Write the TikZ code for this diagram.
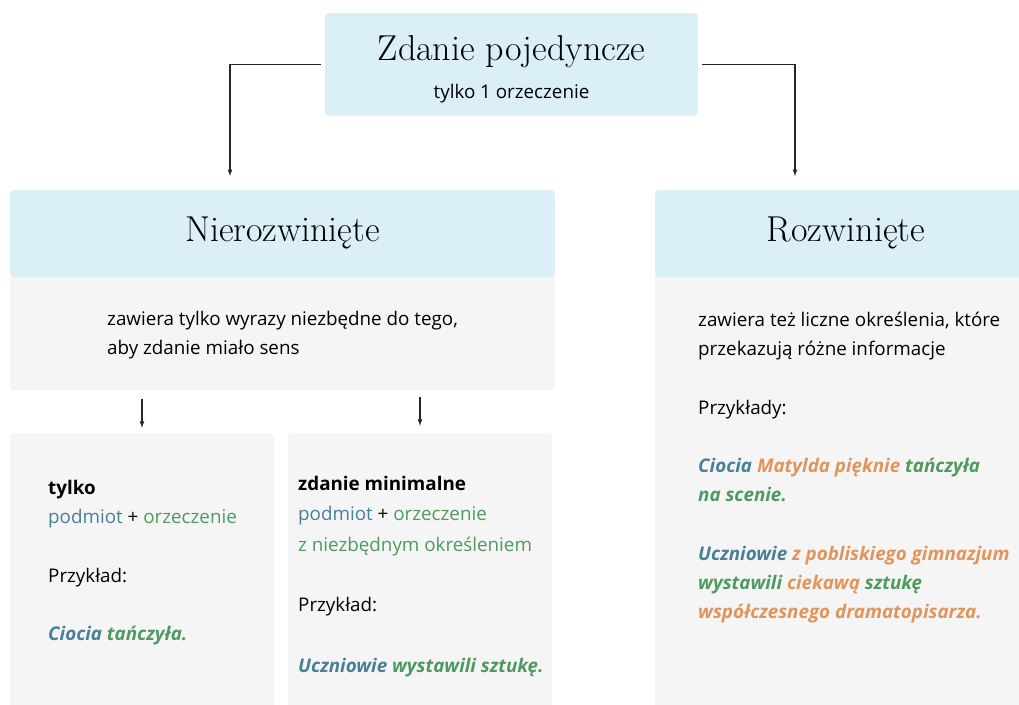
\documentclass[tikz,border=0pt]{standalone}
\usepackage{fontspec}
\newfontfamily\osans{Open Sans}
\usetikzlibrary{arrows,positioning}

\definecolor{boxblue}{HTML}{DBEFF8}
\definecolor{boxgray}{HTML}{F5F5F5}
\definecolor{cpod}{HTML}{497F98}
\definecolor{corz}{HTML}{4E9A5F}
\definecolor{cokr}{HTML}{E0955C}

\newcommand{\podm}[1]{\textcolor{cpod}{#1}}
\newcommand{\orzm}[1]{\textcolor{corz}{#1}}
\newcommand{\okrm}[1]{\textcolor{cokr}{#1}}
\newcommand{\przyk}[1]{\textbf{\textit{#1}}}

\tikzset{
  hdr/.style={fill=boxblue, rounded corners=4pt, inner sep=0pt, font=\fontsize{36}{42}\selectfont},
  card/.style={fill=boxgray, rounded corners=4pt, inner sep=0pt},
  txt/.style={anchor=north west, align=left, inner sep=0pt, font=\osans\fontsize{18.8}{29.3}\selectfont},
  link/.style={->, >=latex, line width=1.2pt, color=black!85},
}

\begin{document}
\begin{tikzpicture}[x=1pt, y=-1pt, on grid]
            \useasboundingbox (0,0) rectangle (1019,704);
            \node[hdr, minimum width=373pt, minimum height=103pt] (zdanie) at (511.5,64.5) {};
            \node[align=center, inner sep=0pt, text depth=6pt, yshift=-5.5pt, font=\fontsize{36}{38}\selectfont] (zdanietxt) at (zdanie)
                {Zdanie pojedyncze\\{\osans\fontsize{18.8}{22}\selectfont tylko 1 orzeczenie}};
            % grey bodies first, headers on top
            \node[card, minimum width=545pt, minimum height=125pt] (nierbody) at (282.5,327.5) {};
            \node[card, minimum width=382pt, minimum height=465pt] (rozwbody) at (846,497.5) {};
            \node[card, minimum width=264pt, minimum height=297pt, below left=254pt and 140.5pt of nierbody] (tylko) {};
            \node[card, minimum width=264pt, minimum height=297pt, right=278pt of tylko] (minimal) {};
            \node[hdr, minimum width=545pt, minimum height=87pt, below left=169pt and 229pt of zdanie] (nier) {Nierozwinięte};
            \node[hdr, minimum width=382pt, minimum height=87pt, below right=169pt and 334.5pt of zdanie] (rozw) {Rozwinięte};
            % texts
            \node[txt] (niertxt) at (107,311) {zawiera tylko wyrazy niezbędne do tego,\\aby zdanie miało sens};
            \node[txt] (rozwtxt) at (698,312) {zawiera też liczne określenia, które\\przekazują różne informacje\\[29pt]
                Przykłady:\\[29pt]
                \przyk{\podm{Ciocia} \okrm{Matylda pięknie} \orzm{tańczyła}}\\\przyk{\orzm{na scenie.}}\\[29pt]
                \przyk{\podm{Uczniowie} \okrm{z pobliskiego gimnazjum}}\\\przyk{\orzm{wystawili} \okrm{ciekawą} \orzm{sztukę}}\\\przyk{\okrm{współczesnego dramatopisarza.}}};
            \node[txt] (tylkotxt) at (48,480) {\textbf{tylko}\\\podm{podmiot} + \orzm{orzeczenie}\\[29pt]
                Przykład:\\[29pt]\przyk{\podm{Ciocia} \orzm{tańczyła.}}};
            \node[txt, font=\osans\fontsize{18.8}{30.5}\selectfont] (mintxt) at (298,476) {\textbf{zdanie minimalne}\\\podm{podmiot} + \orzm{orzeczenie}\\\orzm{z niezbędnym określeniem}\\[30pt]
                Przykład:\\[30pt]\przyk{\podm{Uczniowie} \orzm{wystawili sztukę.}}};
            % connectors
            \coordinate (lt) at (230,176);
            \coordinate (rt) at (795,176);
            \draw[link] ([xshift=-4pt]zdanie.west) -| (lt);
            \draw[link] ([xshift=4pt]zdanie.east) -| (rt);
            \draw[link] ([yshift=-9pt]nierbody.south -| tylko.north) -- ([yshift=5pt]tylko.north);
            \draw[link] ([yshift=-7pt]nierbody.south -| minimal.north) -- ([yshift=7pt]minimal.north);
\end{tikzpicture}
\end{document}
